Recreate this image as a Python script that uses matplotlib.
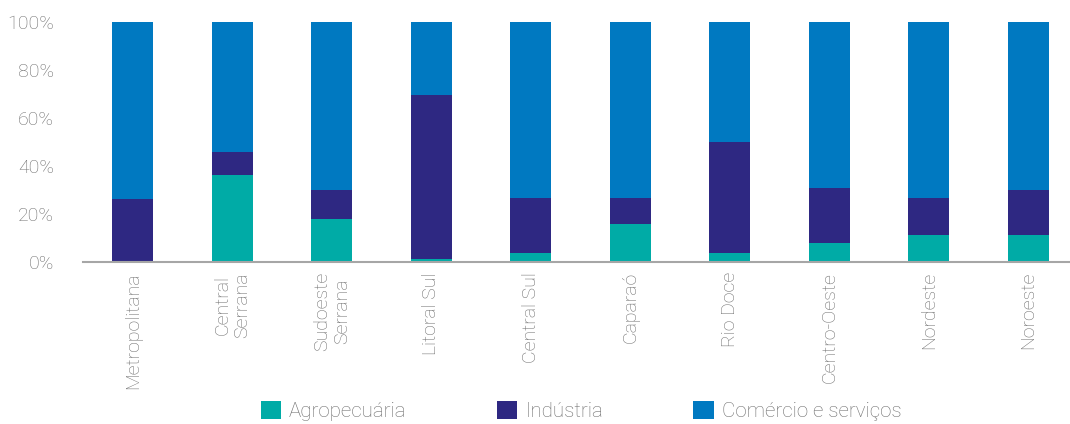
import matplotlib
matplotlib.use("Agg")
import matplotlib.pyplot as plt
from matplotlib.ticker import FuncFormatter

categories = ["Metropolitana", "Central\nSerrana", "Sudoeste\nSerrana", "Litoral Sul",
              "Central Sul", "Caparaó", "Rio Doce", "Centro-Oeste", "Nordeste", "Noroeste"]
agro = [0.0, 36.4, 18.0, 1.4, 3.7, 15.9, 3.7, 7.9, 11.3, 11.3]
industria = [26.3, 9.4, 11.9, 68.0, 23.2, 11.0, 46.2, 23.1, 15.6, 18.6]
comercio = [73.7, 54.2, 70.1, 30.6, 73.1, 73.1, 50.1, 69.0, 73.1, 70.1]
series_names = ["Agropecuária", "Indústria", "Comércio e serviços"]
yticks = [0, 20, 40, 60, 80, 100]

colors = ["#00ABA6", "#2E2882", "#0079C1"]
text_color = "#6E6E6E"

plt.rcParams['font.family'] = ['Roboto', 'DejaVu Sans']
plt.rcParams['font.weight'] = 'light'

fig = plt.figure(figsize=(10.70, 4.24), dpi=100)
ax = fig.add_axes([83 / 1070, (424 - 262.3) / 424, 995 / 1070, 240.6 / 424])

x = list(range(len(categories)))
w = 0.41
b1 = ax.bar(x, agro, w, color=colors[0], label=series_names[0])
bottom2 = agro
b2 = ax.bar(x, industria, w, bottom=bottom2, color=colors[1], label=series_names[1])
bottom3 = [a + i for a, i in zip(agro, industria)]
b3 = ax.bar(x, comercio, w, bottom=bottom3, color=colors[2], label=series_names[2])

ax.set_xlim(-0.5, 9.5)
ax.set_ylim(0, 100)
ax.set_yticks(yticks)
ax.yaxis.set_major_formatter(FuncFormatter(lambda v, p: f"{int(v)}%"))
ax.set_xticks(x)
ax.set_xticklabels(categories, rotation=90, ha="center", va="top", linespacing=1.15)

for s in ["top", "right", "left"]:
    ax.spines[s].set_visible(False)
ax.spines["bottom"].set_color("#A6A6A6")
ax.spines["bottom"].set_linewidth(1.5)

ax.tick_params(axis="y", length=0, pad=21, labelsize=14, labelcolor=text_color)
ax.tick_params(axis="x", length=0, pad=7, labelsize=14, labelcolor=text_color)
for t in ax.get_xticklabels() + ax.get_yticklabels():
    t.set_fontweight('light')

leg = fig.legend(handles=[b1, b2, b3], labels=series_names, loc="center",
                 bbox_to_anchor=(581 / 1070, 13 / 424), ncol=3, frameon=False,
                 handlelength=1.0, handleheight=1.0, handletextpad=0.38,
                 columnspacing=4.4, fontsize=14.8)
for t in leg.get_texts():
    t.set_color(text_color)
    t.set_fontweight('light')

fig.savefig("out.png", dpi=100)
